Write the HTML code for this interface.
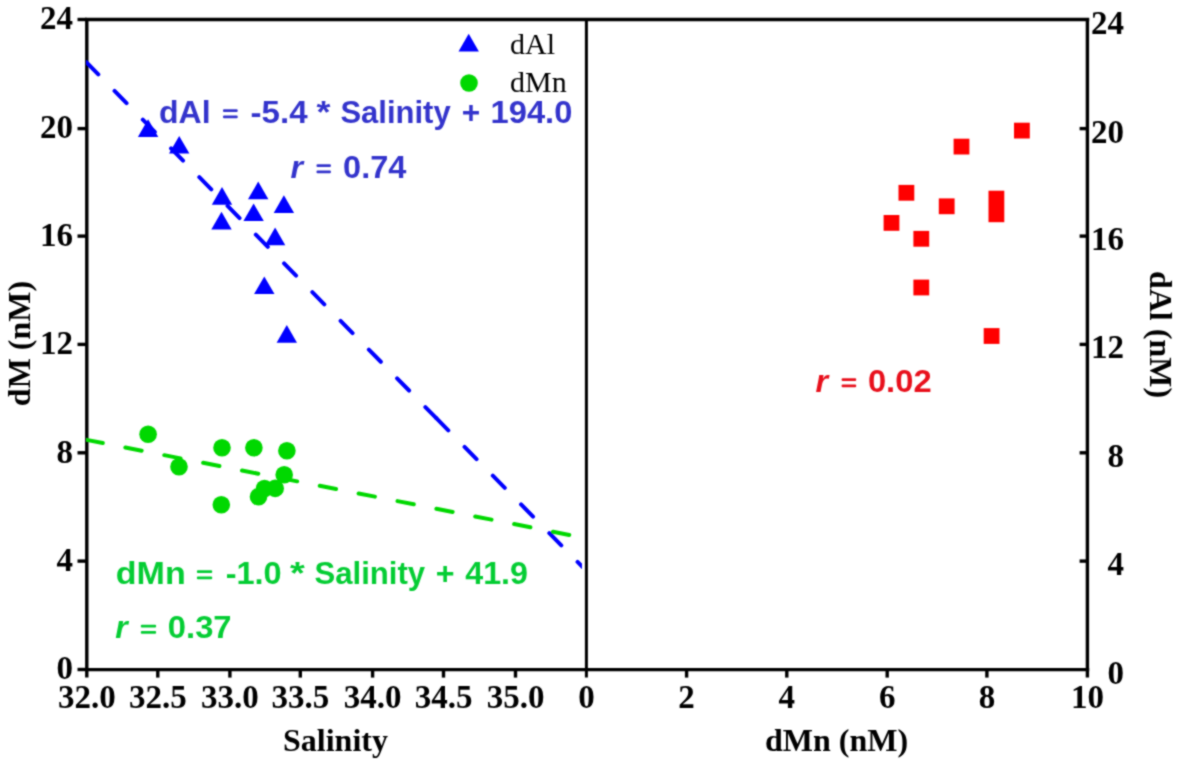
<!DOCTYPE html>
<html><head><meta charset="utf-8"><style>
html,body{margin:0;padding:0;background:#fff;}
svg{display:block;}
#w{width:1181px;height:765px;}
</style></head><body>
<div id="w"><svg width="1181" height="765" viewBox="0 0 1181 765">
<defs><filter id="soft" x="0" y="0" width="1" height="1" color-interpolation-filters="sRGB"><feConvolveMatrix order="3" kernelMatrix="1 2 1 2 8 2 1 2 1" divisor="20" edgeMode="duplicate"/></filter></defs>
<rect width="1181" height="765" fill="#fff"/>
<g filter="url(#soft)">
<rect width="1181" height="765" fill="#fff"/>
<g stroke="#000" stroke-width="3.4" fill="none" stroke-linecap="butt">
<line x1="85.0" y1="19.5" x2="1089.2" y2="19.5"/>
<line x1="85.0" y1="669.6" x2="1089.2" y2="669.6"/>
<line x1="86.8" y1="17.9" x2="86.8" y2="677.6"/>
<line x1="586.4" y1="17.9" x2="586.4" y2="677.6" stroke-width="3"/>
<line x1="1087.4" y1="17.9" x2="1087.4" y2="677.6"/>
<line x1="77.5" y1="19.5" x2="86.8" y2="19.5"/>
<line x1="77.5" y1="128.6" x2="86.8" y2="128.6"/>
<line x1="77.5" y1="236.1" x2="86.8" y2="236.1"/>
<line x1="77.5" y1="344.4" x2="86.8" y2="344.4"/>
<line x1="77.5" y1="452.8" x2="86.8" y2="452.8"/>
<line x1="77.5" y1="561.1" x2="86.8" y2="561.1"/>
<line x1="77.5" y1="669.5" x2="86.8" y2="669.5"/>
<line x1="1079.6" y1="128.6" x2="1087.4" y2="128.6"/>
<line x1="1079.6" y1="236.1" x2="1087.4" y2="236.1"/>
<line x1="1079.6" y1="344.4" x2="1087.4" y2="344.4"/>
<line x1="1079.6" y1="452.8" x2="1087.4" y2="452.8"/>
<line x1="1079.6" y1="561.1" x2="1087.4" y2="561.1"/>
<line x1="157.8" y1="669.6" x2="157.8" y2="677.6"/>
<line x1="229.9" y1="669.6" x2="229.9" y2="677.6"/>
<line x1="300.3" y1="669.6" x2="300.3" y2="677.6"/>
<line x1="372.6" y1="669.6" x2="372.6" y2="677.6"/>
<line x1="443.5" y1="669.6" x2="443.5" y2="677.6"/>
<line x1="515.5" y1="669.6" x2="515.5" y2="677.6"/>
<line x1="686.6" y1="669.6" x2="686.6" y2="677.6"/>
<line x1="786.8" y1="669.6" x2="786.8" y2="677.6"/>
<line x1="887.2" y1="669.6" x2="887.2" y2="677.6"/>
<line x1="986.9" y1="669.6" x2="986.9" y2="677.6"/>
</g>
<g font-family="Liberation Serif" font-weight="bold" font-size="33" fill="#000">
<text x="73" y="29.3" text-anchor="end">24</text>
<text x="73" y="138.4" text-anchor="end">20</text>
<text x="73" y="245.9" text-anchor="end">16</text>
<text x="73" y="354.2" text-anchor="end">12</text>
<text x="73" y="462.6" text-anchor="end">8</text>
<text x="73" y="570.9" text-anchor="end">4</text>
<text x="73" y="679.3" text-anchor="end">0</text>
<text x="1124" y="33.5" text-anchor="end">24</text>
<text x="1124" y="142.6" text-anchor="end">20</text>
<text x="1124" y="250.1" text-anchor="end">16</text>
<text x="1124" y="358.4" text-anchor="end">12</text>
<text x="1124" y="466.8" text-anchor="end">8</text>
<text x="1124" y="575.1" text-anchor="end">4</text>
<text x="1124" y="683.5" text-anchor="end">0</text>
<text x="86.8" y="708.2" text-anchor="middle">32.0</text>
<text x="157.8" y="708.2" text-anchor="middle">32.5</text>
<text x="229.9" y="708.2" text-anchor="middle">33.0</text>
<text x="300.3" y="708.2" text-anchor="middle">33.5</text>
<text x="372.6" y="708.2" text-anchor="middle">34.0</text>
<text x="443.5" y="708.2" text-anchor="middle">34.5</text>
<text x="515.5" y="708.2" text-anchor="middle">35.0</text>
<text x="586.4" y="708.2" text-anchor="middle">0</text>
<text x="686.6" y="708.2" text-anchor="middle">2</text>
<text x="786.8" y="708.2" text-anchor="middle">4</text>
<text x="887.2" y="708.2" text-anchor="middle">6</text>
<text x="986.9" y="708.2" text-anchor="middle">8</text>
<text x="1087.4" y="708.2" text-anchor="middle">10</text>
</g>
<g font-family="Liberation Serif" font-weight="bold" font-size="32" fill="#000">
<text x="335.5" y="751" text-anchor="middle">Salinity</text>
<text x="836.5" y="751" text-anchor="middle">dMn (nM)</text>
<text transform="translate(29.5,343.5) rotate(-90)" text-anchor="middle">dM (nM)</text>
<text transform="translate(1150,334.5) rotate(90)" text-anchor="middle">dAl (nM)</text>
</g>
<defs><clipPath id="cb"><rect x="86.0" y="0" width="496.0" height="765"/></clipPath><clipPath id="cg"><rect x="86.0" y="0" width="498.79999999999995" height="765"/></clipPath></defs>
<g fill="none" stroke-width="4" stroke-linecap="round">
<g clip-path="url(#cb)" stroke="#0000ff" stroke-dasharray="17.1 23.2">
<line x1="86.3" y1="62.21" x2="436.3" y2="418.20"/>
<line x1="436.3" y1="418.20" x2="600" y2="584.70"/>
</g>
<g clip-path="url(#cg)" stroke="#00d800" stroke-dasharray="16.6 23.02">
<line x1="86.5" y1="439.84" x2="600" y2="541.00"/>
</g>
</g>
<g fill="#0000ff">
<polygon points="148.10,119.22 158.30,136.89 137.90,136.89"/>
<polygon points="179.20,135.92 189.40,153.59 169.00,153.59"/>
<polygon points="222.00,187.02 232.20,204.69 211.80,204.69"/>
<polygon points="221.50,211.82 231.70,229.49 211.30,229.49"/>
<polygon points="258.20,181.62 268.40,199.29 248.00,199.29"/>
<polygon points="283.90,195.32 294.10,212.99 273.70,212.99"/>
<polygon points="253.60,203.42 263.80,221.09 243.40,221.09"/>
<polygon points="275.10,227.62 285.30,245.29 264.90,245.29"/>
<polygon points="264.30,276.42 274.50,294.09 254.10,294.09"/>
<polygon points="286.80,325.12 297.00,342.79 276.60,342.79"/>
</g>
<g fill="#00d800">
<circle cx="148.1" cy="434.2" r="8.8"/>
<circle cx="179.0" cy="466.7" r="8.8"/>
<circle cx="222.0" cy="447.8" r="8.8"/>
<circle cx="221.3" cy="504.7" r="8.8"/>
<circle cx="258.5" cy="496.7" r="8.8"/>
<circle cx="284.2" cy="474.7" r="8.8"/>
<circle cx="253.9" cy="447.8" r="8.8"/>
<circle cx="275.2" cy="488.4" r="8.8"/>
<circle cx="264.5" cy="488.5" r="8.8"/>
<circle cx="286.9" cy="450.7" r="8.8"/>
</g>
<g fill="#ff0000">
<rect x="1014.0" y="122.7" width="15.8" height="15.8"/>
<rect x="953.6" y="138.7" width="15.8" height="15.8"/>
<rect x="883.6" y="215.0" width="15.8" height="15.8"/>
<rect x="898.5" y="184.9" width="15.8" height="15.8"/>
<rect x="938.8" y="198.4" width="15.8" height="15.8"/>
<rect x="913.4" y="230.9" width="15.8" height="15.8"/>
<rect x="913.4" y="279.6" width="15.8" height="15.8"/>
<rect x="983.7" y="328.1" width="15.8" height="15.8"/>
<rect x="988.5" y="190.7" width="15.8" height="31.5"/>
</g>
<g fill="#0000ff"><polygon points="468.70,33.76 478.90,51.42 458.50,51.42"/></g>
<circle cx="469" cy="83" r="8.8" fill="#00d800"/>
<g font-family="Liberation Serif" font-size="30" fill="#000">
<text x="510" y="54.4">dAl</text>
<text x="510" y="91.7">dMn</text>
</g>
<text font-family="Liberation Sans" font-weight="bold" font-size="31" fill="#3434cc" transform="translate(159.01,122.5) scale(1.0323,1)" >dAl</text>
<rect x="223.00" y="109.20" width="14.70" height="2.8" rx="1" fill="#3434cc"/>
<rect x="223.00" y="115.40" width="14.70" height="2.8" rx="1" fill="#3434cc"/>
<text font-family="Liberation Sans" font-weight="bold" font-size="31" fill="#3434cc" transform="translate(250.57,122.5) scale(1.0673,1)" >-5.4</text>
<text font-family="Liberation Sans" font-weight="bold" font-size="31" fill="#3434cc" transform="translate(316.41,122.5) scale(1.1574,1)" >*</text>
<text font-family="Liberation Sans" font-weight="bold" font-size="31" fill="#3434cc" transform="translate(340.40,122.5) scale(1.0000,1)" >Salinity</text>
<text font-family="Liberation Sans" font-weight="bold" font-size="31" fill="#3434cc" transform="translate(461.83,122.5) scale(1.0194,1)" >+</text>
<text font-family="Liberation Sans" font-weight="bold" font-size="31" fill="#3434cc" transform="translate(490.59,122.5) scale(1.0545,1)" >194.0</text>
<text font-family="Liberation Sans" font-weight="bold" font-style="italic" font-size="31" fill="#3434cc" transform="translate(290.58,177.5) scale(1.0385,1)" >r</text>
<rect x="316.50" y="164.20" width="14.40" height="2.8" rx="1" fill="#3434cc"/>
<rect x="316.50" y="170.40" width="14.40" height="2.8" rx="1" fill="#3434cc"/>
<text font-family="Liberation Sans" font-weight="bold" font-size="31" fill="#3434cc" transform="translate(343.09,177.5) scale(1.0502,1)" >0.74</text>
<text font-family="Liberation Sans" font-weight="bold" font-size="31" fill="#05cd34" transform="translate(115.73,583.5) scale(1.0992,1)" >dMn</text>
<rect x="196.90" y="570.20" width="15.30" height="2.8" rx="1" fill="#05cd34"/>
<rect x="196.90" y="576.40" width="15.30" height="2.8" rx="1" fill="#05cd34"/>
<text font-family="Liberation Sans" font-weight="bold" font-size="31" fill="#05cd34" transform="translate(225.69,583.5) scale(1.0490,1)" >-1.0</text>
<text font-family="Liberation Sans" font-weight="bold" font-size="31" fill="#05cd34" transform="translate(289.99,583.5) scale(1.2255,1)" >*</text>
<text font-family="Liberation Sans" font-weight="bold" font-size="31" fill="#05cd34" transform="translate(314.50,583.5) scale(1.0037,1)" >Salinity</text>
<text font-family="Liberation Sans" font-weight="bold" font-size="31" fill="#05cd34" transform="translate(435.70,583.5) scale(1.0387,1)" >+</text>
<text font-family="Liberation Sans" font-weight="bold" font-size="31" fill="#05cd34" transform="translate(465.28,583.5) scale(1.0393,1)" >41.9</text>
<text font-family="Liberation Sans" font-weight="bold" font-style="italic" font-size="31" fill="#05cd34" transform="translate(115.18,638.0) scale(1.0308,1)" >r</text>
<rect x="140.80" y="624.70" width="15.30" height="2.8" rx="1" fill="#05cd34"/>
<rect x="140.80" y="630.90" width="15.30" height="2.8" rx="1" fill="#05cd34"/>
<text font-family="Liberation Sans" font-weight="bold" font-size="31" fill="#05cd34" transform="translate(167.78,638.0) scale(1.0580,1)" >0.37</text>
<text font-family="Liberation Sans" font-weight="bold" font-style="italic" font-size="31" fill="#e8101c" transform="translate(815.38,391.5) scale(1.0462,1)" >r</text>
<rect x="841.60" y="378.20" width="14.60" height="2.8" rx="1" fill="#e8101c"/>
<rect x="841.60" y="384.40" width="14.60" height="2.8" rx="1" fill="#e8101c"/>
<text font-family="Liberation Sans" font-weight="bold" font-size="31" fill="#e8101c" transform="translate(867.88,391.5) scale(1.0563,1)" >0.02</text>
</g>
</svg></div>
</body></html>
